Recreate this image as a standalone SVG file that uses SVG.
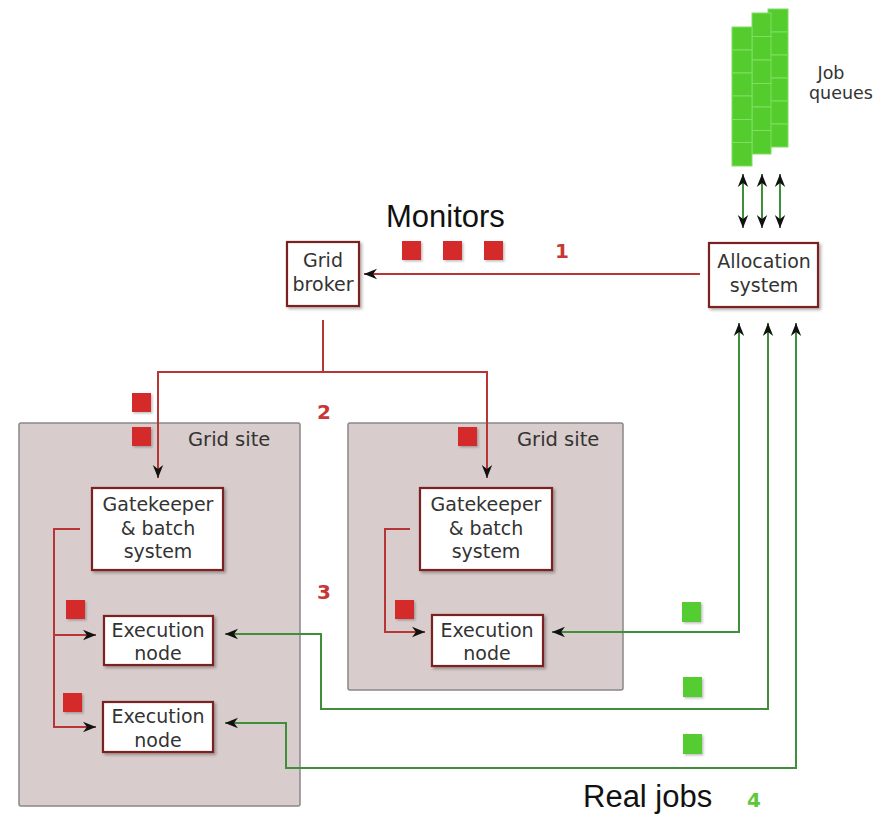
<svg xmlns="http://www.w3.org/2000/svg" width="887" height="816" viewBox="0 0 887 816">
<style>
.site{fill:#d9cccc;stroke:#888;stroke-width:1.5}
.box{fill:#fff;stroke:#7a2222;stroke-width:2.2;filter:url(#sh)}
.t{font-family:"DejaVu Sans",sans-serif;font-size:19px;fill:#333;text-anchor:middle}
.lbl{font-family:"DejaVu Sans",sans-serif;font-size:19.5px;fill:#333}
.jq{font-family:"DejaVu Sans",sans-serif;font-size:17.5px;fill:#333;text-anchor:middle}
.big{font-family:"Liberation Sans",Arial,sans-serif;font-size:31px;fill:#111}
.num{font-family:"DejaVu Sans",sans-serif;font-weight:bold;font-size:20px}
.red{fill:none;stroke:#b83535;stroke-width:2}
.grn{fill:none;stroke:#3f8f3a;stroke-width:2}
.rsq{fill:#d42b2b;filter:url(#sh2)}
.gsq{fill:#55cc33;filter:url(#sh2)}
.q{fill:#55cc2e;stroke:#7fe060;stroke-width:1}
</style>
<defs>
<marker id="ahL" viewBox="0 0 10 10" refX="10" refY="5" markerWidth="13" markerHeight="13" markerUnits="userSpaceOnUse" orient="auto-start-reverse">
<path d="M0,1 L10,5 L0,9 L3,5 z" fill="#111"/>
</marker>
<filter id="sh" x="-20%" y="-20%" width="150%" height="150%">
<feDropShadow dx="2" dy="2" stdDeviation="1.5" flood-color="#000" flood-opacity="0.3"/>
</filter>
<filter id="sh2" x="-30%" y="-30%" width="170%" height="170%">
<feDropShadow dx="1.5" dy="1.5" stdDeviation="1.2" flood-color="#000" flood-opacity="0.25"/>
</filter>
</defs>

<g id="site-left"><rect class="site" x="19" y="423" width="281" height="383" rx="2"/><text class="lbl" x="188" y="446">Grid site</text></g>
<g id="site-right"><rect class="site" x="348" y="423" width="275" height="267" rx="2"/><text class="lbl" x="517" y="446">Grid site</text></g>

<g id="job-queues">
<g>
<rect class="q" x="768" y="9" width="20" height="23"/><rect class="q" x="768" y="32" width="20" height="23"/><rect class="q" x="768" y="55" width="20" height="23"/><rect class="q" x="768" y="78" width="20" height="23"/><rect class="q" x="768" y="101" width="20" height="23"/><rect class="q" x="768" y="124" width="20" height="23"/>
</g>
<g>
<rect class="q" x="752" y="13" width="19" height="23.5"/><rect class="q" x="752" y="36.5" width="19" height="23.5"/><rect class="q" x="752" y="60" width="19" height="23.5"/><rect class="q" x="752" y="83.5" width="19" height="23.5"/><rect class="q" x="752" y="107" width="19" height="23.5"/><rect class="q" x="752" y="130.5" width="19" height="23.5"/>
</g>
<g>
<rect class="q" x="732" y="27" width="20" height="23"/><rect class="q" x="732" y="50" width="20" height="23"/><rect class="q" x="732" y="73" width="20" height="23"/><rect class="q" x="732" y="96" width="20" height="23.5"/><rect class="q" x="732" y="119.5" width="20" height="23"/><rect class="q" x="732" y="142.5" width="20" height="23.5"/>
</g>
<text class="jq" x="831" y="79">Job</text>
<text class="jq" x="841" y="99">queues</text>
</g>

<g id="connectors">
<line class="grn" x1="743" y1="174" x2="743" y2="228" marker-start="url(#ahL)" marker-end="url(#ahL)"/>
<line class="grn" x1="762" y1="174" x2="762" y2="228" marker-start="url(#ahL)" marker-end="url(#ahL)"/>
<line class="grn" x1="780" y1="174" x2="780" y2="228" marker-start="url(#ahL)" marker-end="url(#ahL)"/>
<line class="red" x1="700" y1="274" x2="364" y2="274" marker-end="url(#ahL)"/>
<polyline class="red" points="323,320 323,372 158,372 158,478" marker-end="url(#ahL)"/>
<polyline class="red" points="323,372 487,372 487,478" marker-end="url(#ahL)"/>
<polyline class="red" points="80,529 54,529 54,635 96,635" marker-end="url(#ahL)"/>
<polyline class="red" points="54,635 54,727 96,727" marker-end="url(#ahL)"/>
<polyline class="red" points="410,529 385,529 385,632 425,632" marker-end="url(#ahL)"/>
<polyline class="grn" points="739,323 739,632 552,632" marker-start="url(#ahL)" marker-end="url(#ahL)"/>
<polyline class="grn" points="768,323 768,709 321,709 321,634 225,634" marker-start="url(#ahL)" marker-end="url(#ahL)"/>
<polyline class="grn" points="796,323 796,768 286,768 286,723 225,723" marker-start="url(#ahL)" marker-end="url(#ahL)"/>
</g>

<g id="markers">
<rect class="rsq" x="402" y="241" width="19" height="19"/>
<rect class="rsq" x="443" y="241" width="19" height="19"/>
<rect class="rsq" x="484" y="241" width="19" height="19"/>
<rect class="rsq" x="132" y="393" width="19" height="19"/>
<rect class="rsq" x="132" y="427" width="19" height="19"/>
<rect class="rsq" x="458" y="427" width="19" height="19"/>
<rect class="rsq" x="66" y="600" width="19" height="19"/>
<rect class="rsq" x="63" y="693" width="19" height="19"/>
<rect class="rsq" x="395" y="600" width="19" height="19"/>
<rect class="gsq" x="682" y="602" width="19" height="20"/>
<rect class="gsq" x="683" y="677" width="19" height="20"/>
<rect class="gsq" x="683" y="734" width="19" height="20"/>
</g>

<g id="grid-broker"><rect class="box" x="287" y="242" width="72" height="64"/><text class="t" x="323" y="267">Grid</text><text class="t" x="323" y="291">broker</text></g>
<g id="allocation-system"><rect class="box" x="709" y="243" width="109" height="64"/><text class="t" x="764" y="268">Allocation</text><text class="t" x="764" y="292">system</text></g>
<g id="gatekeeper-left"><rect class="box" x="92" y="488" width="131" height="82"/><text class="t" x="158" y="511">Gatekeeper</text><text class="t" x="158" y="535">&amp; batch</text><text class="t" x="158" y="558">system</text></g>
<g id="gatekeeper-right"><rect class="box" x="420" y="488" width="132" height="82"/><text class="t" x="486" y="511">Gatekeeper</text><text class="t" x="486" y="535">&amp; batch</text><text class="t" x="486" y="558">system</text></g>
<g id="exec-left-1"><rect class="box" x="104" y="616" width="109" height="49"/><text class="t" x="158" y="637">Execution</text><text class="t" x="158" y="660">node</text></g>
<g id="exec-left-2"><rect class="box" x="103" y="702" width="110" height="50"/><text class="t" x="158" y="723">Execution</text><text class="t" x="158" y="747">node</text></g>
<g id="exec-right"><rect class="box" x="432" y="615" width="111" height="51"/><text class="t" x="487" y="637">Execution</text><text class="t" x="487" y="660">node</text></g>

<g id="labels">
<text class="big" x="386" y="227">Monitors</text>
<text class="big" x="583" y="807">Real jobs</text>
<text class="num" x="555" y="258" fill="#c83737">1</text>
<text class="num" x="317" y="419" fill="#c83737">2</text>
<text class="num" x="317" y="599" fill="#c83737">3</text>
<text class="num" x="747" y="807" fill="#5ec83a">4</text>
</g>
</svg>
